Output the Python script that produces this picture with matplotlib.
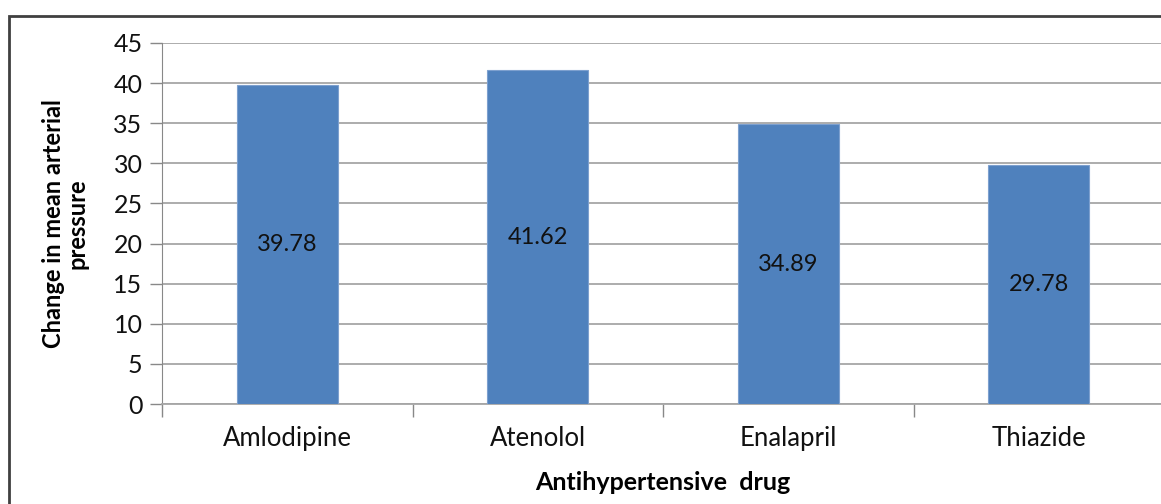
import matplotlib
matplotlib.use("Agg")
import matplotlib.pyplot as plt
from matplotlib.patches import Rectangle

drugs = ["Amlodipine", "Atenolol", "Enalapril", "Thiazide"]
values = [39.78, 41.62, 34.89, 29.78]
yticks = [0, 5, 10, 15, 20, 25, 30, 35, 40, 45]

plt.rcParams['font.family'] = ['Lato', 'DejaVu Sans']

W, H = 1161, 504
fig = plt.figure(figsize=(W / 100, H / 100), dpi=100)
ax = fig.add_axes([162 / W, 1 - 404 / H, (1164 - 162) / W, (404 - 43) / H])

x = list(range(len(drugs)))
ax.bar(x, values, width=0.405, color="#4F81BD", edgecolor="#7DA0CF", linewidth=0.8, zorder=3)
for xi, v in zip(x, values):
    ax.text(xi, v / 2, f"{v:.2f}", ha="center", va="center", fontsize=17, color="#111111", zorder=4)

ax.set_xlim(-0.5, len(drugs) - 0.5)
ax.set_ylim(0, 45)
ax.set_yticks(yticks)
ax.set_yticklabels([str(t) for t in yticks], fontsize=18, color="#111111")
ax.yaxis.grid(True, color="#A6A6A6", linewidth=1.3, zorder=0)
ax.set_axisbelow(True)

ax.set_xticks(x)
ax.set_xticklabels(drugs, fontsize=18.5, color="#111111")
ax.tick_params(axis="x", length=0, pad=16)
ax.set_xticks([i - 0.5 for i in range(len(drugs) + 1)], minor=True)
ax.tick_params(axis="x", which="minor", length=9, color="#888888", width=1)
ax.tick_params(axis="y", length=9, color="#888888", width=1, pad=5)

for s in ["top", "right"]:
    ax.spines[s].set_visible(False)
ax.spines["left"].set_color("#888888")
ax.spines["bottom"].set_color("#A6A6A6")
ax.spines["bottom"].set_linewidth(1.3)

ax.set_ylabel("Change in mean arterial\npressure", fontsize=17, fontweight="bold", labelpad=18, linespacing=1.0)
ax.set_xlabel("Antihypertensive  drug", fontsize=18, fontweight="bold", labelpad=14)

frame = Rectangle((9 / W, -0.2), 1.2, 1.2 - 16 / H, transform=fig.transFigure,
                  fill=False, edgecolor="#404040", linewidth=2)
fig.patches.append(frame)

fig.savefig("out.png", dpi=100)
